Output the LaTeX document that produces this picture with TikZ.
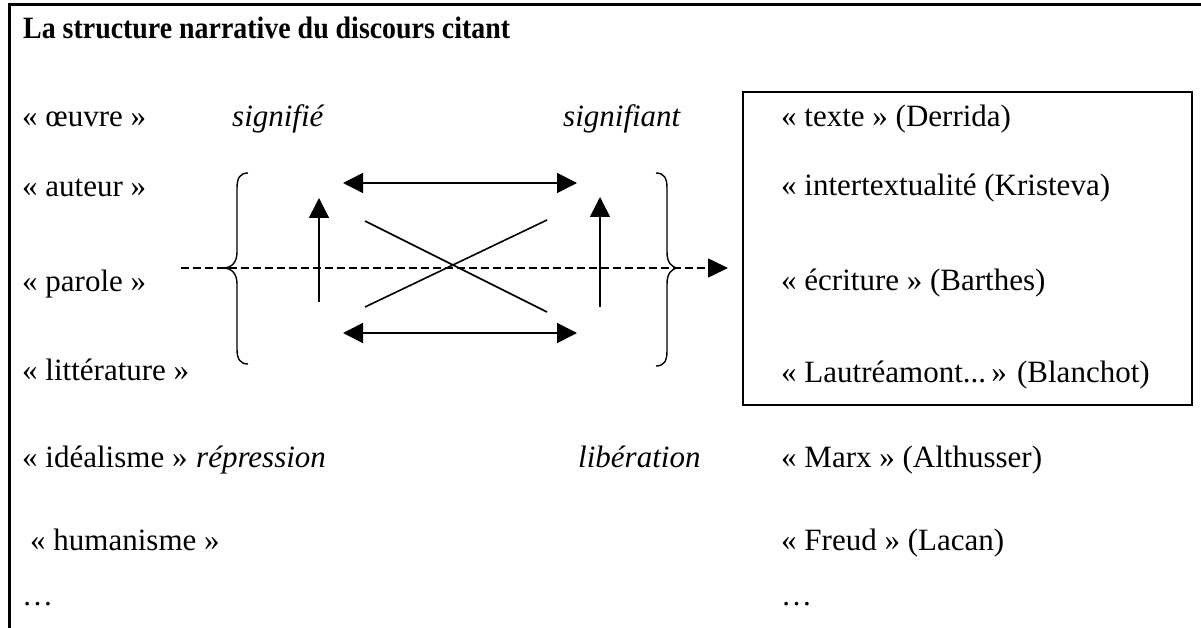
\documentclass[tikz,border=0pt]{standalone}
\usepackage{fontspec}
\usepackage{graphicx}
\setmainfont{Liberation Serif}
\usetikzlibrary{arrows.meta}
\begin{document}
\begin{tikzpicture}[x=1pt,y=-1pt,
  txt/.style={anchor=base west,inner sep=0pt,font=\fontsize{31}{36}\selectfont},
  itx/.style={txt,font=\fontsize{31}{36}\selectfont\itshape},
  ttl/.style={anchor=base west,inner sep=0pt,font=\fontsize{31}{36}\selectfont\bfseries},
  lnk/.style={line width=1.6pt},
  uparr/.style={lnk,-{Triangle[length=20pt,width=20pt]}},
  dblarr/.style={lnk,{Triangle[length=20pt,width=20pt]}-{Triangle[length=20pt,width=20pt]}},
  dsharr/.style={lnk,dash pattern=on 8pt off 4pt,-{Triangle[length=20pt,width=19pt]}},
  brc/.style={line width=1.4pt},
  frame/.style={line width=3pt},
  boxframe/.style={line width=1.8pt}]
\useasboundingbox (0,0) rectangle (1201,628);
\fill[white] (0,0) rectangle (1201,628);
% outer frame (top and left)
\draw[frame] (1201,5) -- (9.5,5) -- (9.5,628);
% right box
\draw[boxframe] (743,92) rectangle (1192,405);
% title
\node[ttl] (title) at (23,39) {\scalebox{0.9}[1]{La structure narrative du discours citant}};
% left column
\node[txt] (oeuvre) at (22,127) {« œuvre »};
\node[txt] (auteur) at (22,197) {« auteur »};
\node[txt] (parole) at (22,291) {« parole »};
\node[txt] (litt) at (22,380) {« littérature »};
\node[txt] (ideal) at (22,467) {« idéalisme »};
\node[txt] (human) at (30,550) {« humanisme »};
\node[txt] (dotsl) at (22,605) {…};
% italic labels
\node[itx] (signifie) at (232,127) {signifié};
\node[itx] (signifiant) at (563,127) {signifiant};
\node[itx] (repr) at (196,467) {répression};
\node[itx] (liber) at (578,467) {libération};
% right column
\node[txt] (texte) at (781,127) {« texte » (Derrida)};
\node[txt] (inter) at (781,196) {« intertextualité (Kristeva)};
\node[txt] (ecrit) at (781,290) {« écriture » (Barthes)};
\node[txt] (lautr) at (781,382) {« Lautréamont...\,» (Blanchot)};
\node[txt] (marx) at (781,467) {« Marx » (Althusser)};
\node[txt] (freud) at (781,550) {« Freud » (Lacan)};
\node[txt] (dotsr) at (781,605) {…};
% braces
\draw[brc] (248,173) .. controls (240,173) and (237,178) .. (237,188) -- (237,252) .. controls (237,262) and (232,268) .. (223,268) .. controls (232,268) and (237,274) .. (237,284) -- (237,349) .. controls (237,359) and (240,364) .. (248,364);
\draw[brc] (656,173) .. controls (664,173) and (667,178) .. (667,188) -- (667,252) .. controls (667,262) and (671,268) .. (679,268) .. controls (671,268) and (667,274) .. (667,284) -- (667,351) .. controls (667,361) and (664,366) .. (656,366);
% coordinates
\coordinate (dsA) at (181,268);
\coordinate (dsB) at (728,268);
\coordinate (lvA) at (319,302);
\coordinate (lvB) at (319,198);
\coordinate (rvA) at (600,307);
\coordinate (rvB) at (600,197);
\coordinate (thA) at (343,183);
\coordinate (thB) at (577,183);
\coordinate (bhA) at (343,333);
\coordinate (bhB) at (577,333);
\coordinate (c1A) at (365,221);
\coordinate (c1B) at (547,312);
\coordinate (c2A) at (365,307);
\coordinate (c2B) at (547,220);
% connectors
\draw[dsharr] (dsA) -- (dsB);
\draw[uparr] (lvA) -- (lvB);
\draw[uparr] (rvA) -- (rvB);
\draw[dblarr] (thA) -- (thB);
\draw[dblarr] (bhA) -- (bhB);
\draw[lnk] (c1A) -- (c1B);
\draw[lnk] (c2A) -- (c2B);
\end{tikzpicture}
\end{document}
